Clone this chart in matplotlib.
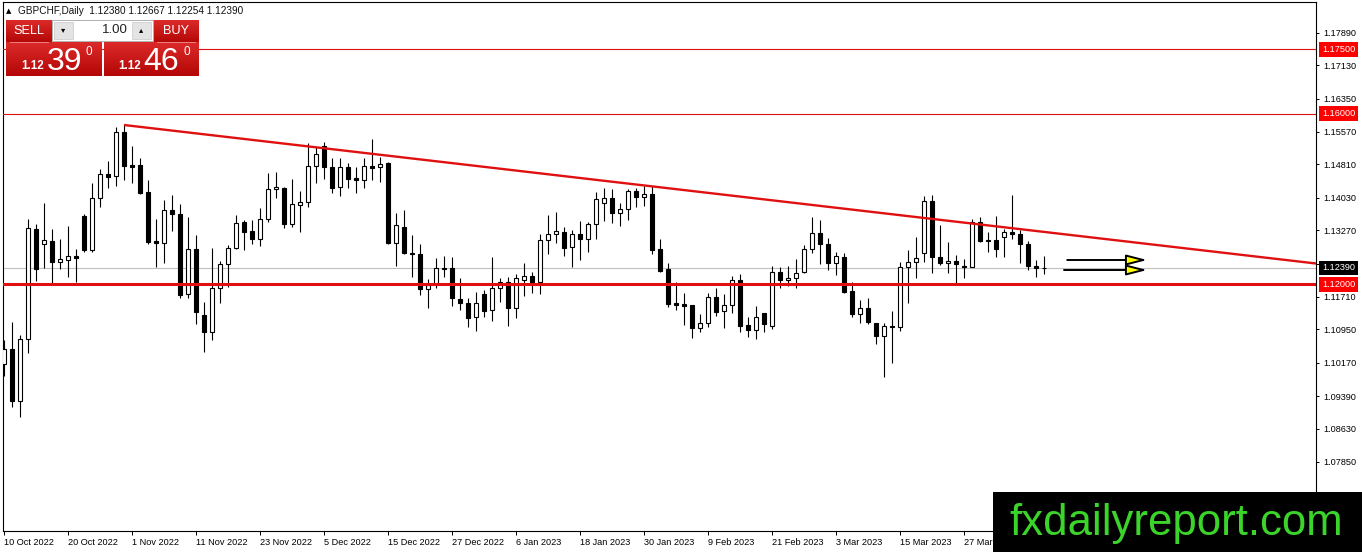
import matplotlib
matplotlib.use('Agg')
import matplotlib.pyplot as plt
import numpy as np
import pandas as pd
from matplotlib.patches import Rectangle
from matplotlib.transforms import blended_transform_factory
from matplotlib.colors import LinearSegmentedColormap

plt.rcParams['font.family'] = ['Liberation Sans', 'DejaVu Sans']

# ---- data (GBPCHF daily) ----
symbol = 'GBPCHF,Daily'
start_date = '2022-10-10'

opens = [1.10139, 1.10490, 1.09274, 1.10724, 1.13298, 1.12947, 1.13018, 1.12526, 1.12573, 1.12667,
         1.13603, 1.12807, 1.14024, 1.14585, 1.14539, 1.15568, 1.14796, 1.14796, 1.14164, 1.13018,
         1.12971, 1.13743, 1.13649, 1.11777, 1.12830, 1.11286, 1.10888, 1.11918, 1.12479, 1.12854,
         1.13462, 1.13252, 1.13064, 1.13532, 1.14234, 1.14258, 1.13415, 1.13860, 1.13930, 1.14773,
         1.15241, 1.14749, 1.14281, 1.14749, 1.14492, 1.14445, 1.14773, 1.14749, 1.14843, 1.12971,
         1.13345, 1.12737, 1.12713, 1.11894, 1.12011, 1.12386, 1.12386, 1.11660, 1.11567, 1.11239,
         1.11777, 1.11403, 1.11918, 1.12058, 1.11450, 1.12105, 1.12199, 1.12058, 1.13041, 1.13181,
         1.13228, 1.12877, 1.13181, 1.13064, 1.13415, 1.13907, 1.14024, 1.13673, 1.13766, 1.14188,
         1.14047, 1.14117, 1.12830, 1.12362, 1.11567, 1.11543, 1.11520, 1.10982, 1.11099, 1.11707,
         1.11380, 1.11520, 1.12105, 1.11052, 1.10935, 1.11333, 1.11029, 1.12292, 1.12105, 1.12152,
         1.12292, 1.12830, 1.13205, 1.12947, 1.12503, 1.12643, 1.11848, 1.11309, 1.11450, 1.11099,
         1.10795, 1.11029, 1.11005, 1.12409, 1.12526, 1.12737, 1.13954, 1.12643, 1.12503, 1.12550,
         1.12433, 1.12409, 1.13462, 1.13041, 1.13041, 1.13111, 1.13228, 1.13181, 1.12947, 1.12433,
         1.12380]
highs = [1.10701, 1.11122, 1.10818, 1.13532, 1.13415, 1.13907, 1.13298, 1.13064, 1.13369, 1.12830,
         1.13649, 1.14375, 1.14702, 1.14890, 1.15685, 1.15732, 1.15241, 1.14960, 1.14445, 1.13532,
         1.13977, 1.14094, 1.13883, 1.13579, 1.13158, 1.11590, 1.12854, 1.12550, 1.12924, 1.13626,
         1.13509, 1.13509, 1.13790, 1.14609, 1.14632, 1.14281, 1.14468, 1.14188, 1.15311, 1.15217,
         1.15334, 1.14960, 1.14960, 1.14843, 1.14749, 1.14960, 1.15404, 1.14983, 1.14866, 1.13673,
         1.13743, 1.13158, 1.12947, 1.12128, 1.12620, 1.12667, 1.12643, 1.12152, 1.11684, 1.11824,
         1.11871, 1.12643, 1.12152, 1.12175, 1.12245, 1.12503, 1.12292, 1.13181, 1.13626, 1.13696,
         1.13345, 1.13275, 1.13486, 1.13462, 1.14164, 1.14258, 1.14234, 1.13907, 1.14234, 1.14258,
         1.14305, 1.14305, 1.13064, 1.12503, 1.12058, 1.11801, 1.11530, 1.11309, 1.11801, 1.11918,
         1.11777, 1.12199, 1.12245, 1.11239, 1.11497, 1.11340, 1.12433, 1.12409, 1.12433, 1.12596,
         1.12924, 1.13579, 1.13509, 1.13088, 1.12760, 1.12737, 1.12058, 1.11637, 1.11684, 1.11110,
         1.11099, 1.11380, 1.12526, 1.12807, 1.13111, 1.14071, 1.14094, 1.13392, 1.12994, 1.12690,
         1.12596, 1.13532, 1.13579, 1.13228, 1.13603, 1.13298, 1.14094, 1.13275, 1.13018, 1.12573,
         1.12667]
lows = [1.09859, 1.09133, 1.08899, 1.10397, 1.12082, 1.12386, 1.12035, 1.12362, 1.12175, 1.12058,
        1.12760, 1.12760, 1.13813, 1.14258, 1.14305, 1.14445, 1.14375, 1.14117, 1.12947, 1.12409,
        1.12503, 1.13252, 1.11684, 1.11684, 1.11075, 1.10420, 1.10701, 1.11567, 1.11941, 1.12840,
        1.12807, 1.12947, 1.12901, 1.13462, 1.14024, 1.13322, 1.13345, 1.13228, 1.13813, 1.14375,
        1.14468, 1.14141, 1.14071, 1.14258, 1.14141, 1.14258, 1.14445, 1.14398, 1.12947, 1.12433,
        1.12713, 1.12175, 1.11754, 1.11450, 1.11918, 1.12175, 1.11497, 1.11403, 1.11005, 1.10912,
        1.11239, 1.11146, 1.11590, 1.11029, 1.11216, 1.11731, 1.11801, 1.11777, 1.12713, 1.12971,
        1.12667, 1.12409, 1.12573, 1.12760, 1.13064, 1.13486, 1.13439, 1.13369, 1.13509, 1.13813,
        1.13837, 1.12713, 1.12292, 1.11473, 1.11403, 1.11052, 1.10748, 1.10888, 1.11005, 1.11263,
        1.10982, 1.11333, 1.10888, 1.10771, 1.10724, 1.10888, 1.10958, 1.11918, 1.11965, 1.11918,
        1.12269, 1.12737, 1.12479, 1.12339, 1.12222, 1.11810, 1.11239, 1.11099, 1.11075, 1.10607,
        1.09835, 1.10163, 1.10912, 1.11567, 1.12152, 1.12526, 1.12269, 1.12456, 1.12269, 1.12011,
        1.12152, 1.12400, 1.12994, 1.12760, 1.12643, 1.12643, 1.13064, 1.12503, 1.12339, 1.12175,
        1.12254]
closes = [1.10490, 1.09274, 1.10724, 1.13322, 1.12362, 1.13041, 1.12526, 1.12596, 1.12667, 1.12620,
          1.12807, 1.14024, 1.14585, 1.14515, 1.15568, 1.14773, 1.14749, 1.14141, 1.12994, 1.12971,
          1.13743, 1.13649, 1.11754, 1.12830, 1.11356, 1.10888, 1.11918, 1.12479, 1.12854, 1.13439,
          1.13228, 1.13064, 1.13532, 1.14234, 1.14281, 1.13415, 1.13883, 1.13930, 1.14773, 1.15053,
          1.14749, 1.14258, 1.14749, 1.14468, 1.14445, 1.14773, 1.14726, 1.14819, 1.12971, 1.13392,
          1.12737, 1.12713, 1.11894, 1.11988, 1.12386, 1.12362, 1.11684, 1.11567, 1.11216, 1.11567,
          1.11380, 1.11918, 1.12058, 1.11450, 1.12152, 1.12199, 1.12058, 1.13041, 1.13181, 1.13252,
          1.12854, 1.13181, 1.13064, 1.13415, 1.14000, 1.14024, 1.13673, 1.13766, 1.14188, 1.14047,
          1.14117, 1.12807, 1.12316, 1.11543, 1.11520, 1.11497, 1.10982, 1.11099, 1.11707, 1.11356,
          1.11520, 1.12105, 1.11029, 1.10935, 1.11239, 1.11075, 1.12292, 1.12105, 1.12152, 1.12269,
          1.12830, 1.13205, 1.12947, 1.12503, 1.12667, 1.11824, 1.11309, 1.11450, 1.11122, 1.10795,
          1.11029, 1.11005, 1.12409, 1.12526, 1.12620, 1.13954, 1.12643, 1.12503, 1.12550, 1.12479,
          1.12409, 1.13462, 1.13018, 1.13018, 1.12830, 1.13228, 1.13181, 1.12947, 1.12433, 1.12386,
          1.12390]

price_ticks = [1.17890, 1.17130, 1.16350, 1.15570, 1.14810, 1.14030, 1.13270,
               1.12490, 1.11710, 1.10950, 1.10170, 1.09390, 1.08630, 1.07850]
level_lines = [1.17500, 1.16000]
support_level = 1.12000
last_price = 1.12390
trend_x = [15, 164]
trend_y = [1.15732, 1.12491]
arrow_x0 = [132.9, 132.5]
arrow_x1 = [142.9, 142.9]
arrow_y = [1.12573, 1.12339]
sell_pips, buy_pips = '39', '46'
big_figure = '1.12'
lot_size = '1.00'
watermark = 'fxdailyreport.com'

RED = '#e01010'
W, H = 1362, 552

dates = pd.bdate_range(start_date, periods=len(closes))
x = np.arange(len(closes))
o = np.array(opens); c = np.array(closes)
hi = np.array(highs); lo = np.array(lows)

fig = plt.figure(figsize=(W / 100, H / 100), dpi=100)
fig.patch.set_facecolor('white')
# plot frame: left 3px, right 1316px, top 2px, bottom 531px
ax = fig.add_axes([3 / W, (H - 531) / H, 1313 / W, 529 / H])
ax.set_xlim(-0.125, 164.0)
ax.set_ylim(1.06232, 1.18610)

# current price line (behind candles)
ax.axhline(last_price, color='#c0c0c0', lw=0.8, zorder=1)

# candles
ax.vlines(x, lo, hi, color='black', lw=0.8, zorder=2)
bull = c >= o
body_bottom = np.minimum(o, c)
body_h = np.maximum(np.abs(c - o), 1e-5)
ax.bar(x, body_h, bottom=body_bottom, width=0.62,
       color=np.where(bull, 'white', 'black'), edgecolor='black', lw=0.8, zorder=3)

# horizontal levels + trendline
for lvl in level_lines:
    ax.axhline(lvl, color=RED, lw=0.8, zorder=4)
ax.axhline(support_level, color=RED, lw=2.2, zorder=4)
ax.plot(trend_x, trend_y, color=RED, lw=1.7, zorder=4, solid_capstyle='butt')

# arrows
for x0, x1, yv in zip(arrow_x0, arrow_x1, arrow_y):
    ax.annotate('', xy=(x1, yv), xytext=(x0, yv),
                arrowprops=dict(arrowstyle='-|>,head_length=1.25,head_width=0.32',
                                fc='#ffff00', ec='black', lw=1.4, mutation_scale=10,
                                shrinkA=0, shrinkB=0), zorder=5)

# axes styling
for sp in ax.spines.values():
    sp.set_color('black')
    sp.set_linewidth(0.8)
ax.yaxis.tick_right()
ax.set_yticks(price_ticks)
# 1.12490 sits under the last-price box in the terminal, so its text is left blank
ax.set_yticklabels(['' if abs(v - last_price) < 0.0015 else f'{v:.5f}' for v in price_ticks])
ax.tick_params(axis='y', direction='out', length=2.5, width=0.7, pad=2.5,
               labelsize=6.6, colors='black')
tick_idx = x[::8]
ax.set_xticks(tick_idx)
# labels past "27 Mar" are hidden by the watermark box
ax.set_xticklabels([f'{d.day} {d:%b %Y}' if i <= 120 else ''
                    for i, d in zip(tick_idx, dates[::8])])
ax.tick_params(axis='x', direction='out', length=3, width=0.7, pad=2,
               labelsize=6.6, colors='black')
for lab in ax.get_xticklabels():
    lab.set_ha('left')

# boxed price labels on the right scale
blend = blended_transform_factory(ax.transAxes, ax.transData)
for lvl in level_lines + [support_level]:
    ax.text(1 + 6 / 1313, lvl, f'{lvl:.5f}', transform=blend, ha='left', va='center',
            fontsize=6.6, color='white', zorder=10, clip_on=False,
            bbox=dict(boxstyle='square,pad=0.3', fc='#ff0000', ec='none'))
ax.text(1 + 6 / 1313, last_price, f'{last_price:.5f}', transform=blend, ha='left',
        va='center', fontsize=6.6, color='white', zorder=11, clip_on=False,
        bbox=dict(boxstyle='square,pad=0.3', fc='black', ec='none'))

# overlay in pixel coords for the trade panel + watermark
ov = fig.add_axes([0, 0, 1, 1], zorder=5)
ov.patch.set_alpha(0)
ov.axis('off')

red_cmap = LinearSegmentedColormap.from_list('mt4red', ['#dc2a2a', '#b40606'])
grad = np.linspace(0, 1, 64).reshape(-1, 1)


def red_box(x0, y0, x1, y1):
    ov.imshow(grad, cmap=red_cmap, extent=(x0, x1, y1, y0), origin='upper',
              aspect='auto', zorder=2)


ov.text(6, 11, '\u25b2', fontsize=5, va='center', ha='left', family=['DejaVu Sans'])
ov.text(18, 11, f'{symbol}  {opens[-1]:.5f} {highs[-1]:.5f} {lows[-1]:.5f} {closes[-1]:.5f}',
        fontsize=7.2, va='center', ha='left', color='#111111')

red_box(6, 20, 52, 43)
red_box(6, 42, 102, 76)
red_box(153, 20, 199, 43)
red_box(104, 42, 199, 76)
ov.plot([10, 48], [41.5, 41.5], color='#f09090', lw=0.6, zorder=3)
ov.plot([157, 195], [41.5, 41.5], color='#f09090', lw=0.6, zorder=3)
ov.text(29, 31, 'SELL', color='white', fontsize=9.2, ha='center', va='center', zorder=4)
ov.text(176, 31, 'BUY', color='white', fontsize=9.2, ha='center', va='center', zorder=4)

# lot spinner
ov.add_patch(Rectangle((52, 20), 101, 21, fc='white', ec='#b0b0b0', lw=0.7, zorder=3))
ov.add_patch(Rectangle((54, 22), 19, 17, fc='#e4e4e4', ec='#c8c8c8', lw=0.5, zorder=4))
ov.add_patch(Rectangle((132, 22), 19, 17, fc='#e4e4e4', ec='#c8c8c8', lw=0.5, zorder=4))
ov.text(63.5, 30, '\u25be', fontsize=6, ha='center', va='center', family=['DejaVu Sans'], zorder=5)
ov.text(141.5, 30, '\u25b4', fontsize=6, ha='center', va='center', family=['DejaVu Sans'], zorder=5)
ov.text(128, 30, lot_size, fontsize=9.5, ha='right', va='center', color='#222222', zorder=5)

# bid / ask
ov.text(21, 66, big_figure, color='white', fontsize=8.4, fontweight='bold', ha='left',
        va='center', zorder=4)
ov.text(47, 69.5, sell_pips, color='white', fontsize=23, ha='left', va='baseline', zorder=4)
ov.text(86, 52, '0', color='white', fontsize=8.5, ha='left', va='center', zorder=4)
ov.text(118, 66, big_figure, color='white', fontsize=8.4, fontweight='bold', ha='left',
        va='center', zorder=4)
ov.text(143, 69.5, buy_pips, color='white', fontsize=23, ha='left', va='baseline', zorder=4)
ov.text(183, 52, '0', color='white', fontsize=8.5, ha='left', va='center', zorder=4)

# watermark
ov.add_patch(Rectangle((993, 492), W - 993, H - 492, fc='black', ec='none', zorder=6))
ov.text(1009, 535, watermark, color='#3ad42a', fontsize=31.5, ha='left', va='baseline', zorder=7)

ov.set_xlim(0, W)
ov.set_ylim(H, 0)

fig.savefig('out.png', dpi=100)
